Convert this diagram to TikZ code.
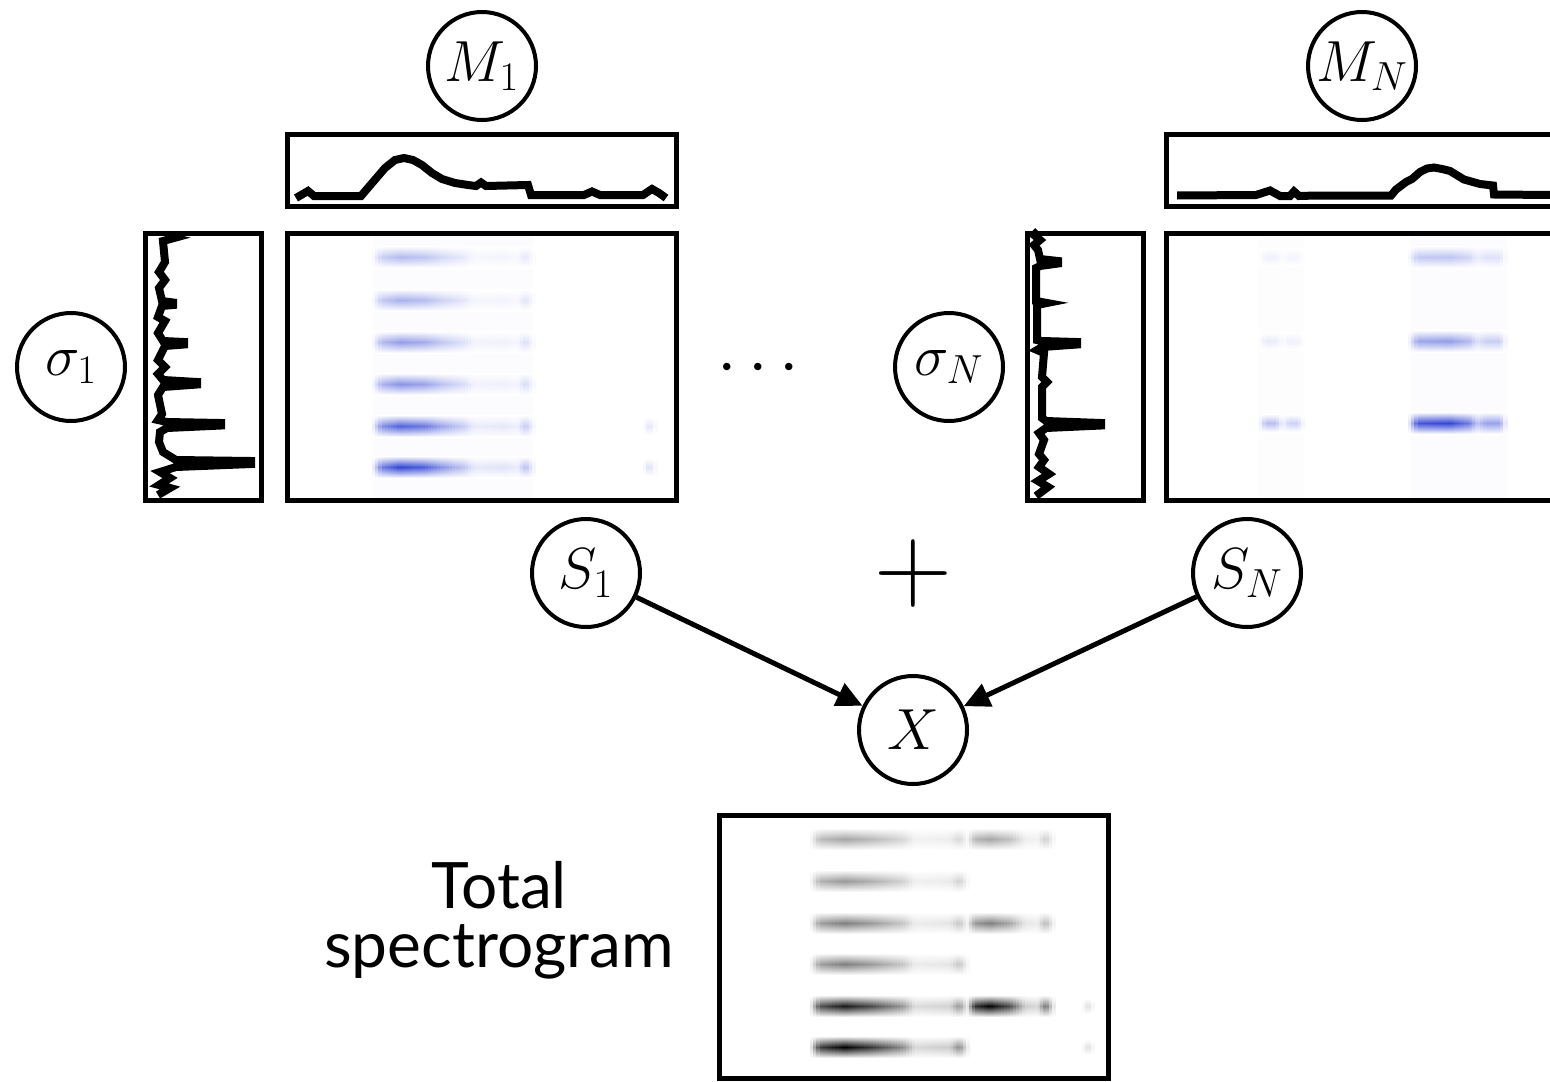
\RequirePackage{fix-cm}
\documentclass[tikz,border=0pt]{standalone}
\usepackage[no-math]{fontspec}
\newfontfamily\labelfont{Lato}
\usetikzlibrary{arrows.meta}
\definecolor{sb}{RGB}{40,60,210}
\newcommand\band[5]{%
  \foreach \xa/\xb/\fa/\fb in #5 {
    \pgfmathtruncatemacro\nn{max(1,round((\xb-\xa)/3))}
    \foreach \k in {1,...,\nn} {
      \pgfmathsetmacro\xl{\xa+(\k-1)*(\xb-\xa)/\nn}
      \pgfmathsetmacro\xr{\xa+\k*(\xb-\xa)/\nn+0.3}
      \pgfmathsetmacro\cc{(\fa+(\fb-\fa)*(\k-0.5)/\nn)*#4/100}
      \shade[top color=white, bottom color=white, middle color=#3!\cc!white] (\xl,#1-#2) rectangle (\xr,#1+#2);
    }}}
\def\mprof{372/382/0/70,382/400/70/100,400/425/100/85,425/440/85/60,440/465/60/30,465/475/30/12,475/505/12/15,505/518/15/10,518/526/10/35,526/535/35/0}
\def\mspot{643/650/0/25,650/657/25/0}
\def\nprofR{1408/1418/0/90,1418/1450/90/100,1450/1470/100/70,1470/1478/70/30,1478/1486/30/50,1486/1500/50/50,1500/1507/50/0}
\def\nprofL{1259/1266/0/50,1266/1276/50/50,1276/1283/50/10,1283/1289/10/35,1289/1298/35/35,1298/1304/35/0}
\def\tprofL{810/820/0/75,820/845/75/100,845/870/100/80,870/903/80/45,903/915/45/15,915/950/15/20,950/960/20/45,960/969/45/0}
\def\tprofR{967/975/0/80,975/990/80/100,990/1010/100/70,1010/1025/70/20,1025/1038/20/15,1038/1046/15/55,1046/1055/55/0}
\def\tspot{1082/1088/0/100,1088/1094/100/0}
\begin{document}
\begin{tikzpicture}[x=0.5pt,y=-0.5pt,
  var/.style={circle, draw, line width=2pt, minimum size=54pt, inner sep=0pt, font=\fontsize{29}{34}\selectfont},
  frame/.style={draw, line width=2.5pt},
  curve/.style={line width=4pt},
  link/.style={line width=2.5pt, -{Triangle[length=13pt,width=12pt]}},
  words/.style={font=\labelfont\fontsize{32}{38}\selectfont, anchor=base, inner sep=0pt}]
\useasboundingbox (0,0) rectangle (1550,1081);
\clip (0,0) rectangle (1550,1081);

% ---------- spectrogram M1 ----------
\fill[sb!1.5] (374,234) rectangle (533,499);
\band{257}{11}{sb}{35}{\mprof}
\band{300}{11}{sb}{40}{\mprof}
\band{342}{11}{sb}{50}{\mprof}
\band{384}{11}{sb}{55}{\mprof}
\band{426}{11}{sb}{80}{\mprof}
\band{467}{11}{sb}{95}{\mprof}
\band{426}{9}{sb}{60}{\mspot}
\band{467}{9}{sb}{70}{\mspot}

% ---------- spectrogram MN ----------
\fill[sb!1.5] (1410,234) rectangle (1506,499);
\fill[sb!1] (1258,234) rectangle (1304,499);
\band{257}{11}{sb}{30}{\nprofR}
\band{341}{11}{sb}{50}{\nprofR}
\band{423}{11}{sb}{95}{\nprofR}
\band{257}{9}{sb}{15}{\nprofL}
\band{341}{9}{sb}{20}{\nprofL}
\band{423}{9}{sb}{65}{\nprofL}

% ---------- total spectrogram ----------
\band{839}{11}{black}{35}{\tprofL}
\band{881}{11}{black}{40}{\tprofL}
\band{923}{11}{black}{50}{\tprofL}
\band{964}{11}{black}{50}{\tprofL}
\band{1006}{11}{black}{90}{\tprofL}
\band{1047}{11}{black}{100}{\tprofL}
\band{839}{11}{black}{35}{\tprofR}
\band{923}{11}{black}{50}{\tprofR}
\band{1006}{11}{black}{100}{\tprofR}
\band{1006}{8}{black}{14}{\tspot}
\band{1047}{8}{black}{14}{\tspot}

% ---------- frames ----------
\draw[frame] (287.5,134.5) rectangle (676.5,206);
\draw[frame] (287.5,233) rectangle (676.5,500.5);
\draw[frame] (145,233) rectangle (261,500.5);
\draw[frame] (1166,134.5) rectangle (1600,206);
\draw[frame] (1166,233) rectangle (1600,500.5);
\draw[frame] (1027,233) rectangle (1143,500.5);
\draw[frame] (719,815) rectangle (1108.5,1078);

% ---------- profile curves ----------
\draw[curve] (296,198) -- (308,191) -- (314,196) -- (361,196) -- (373,182) -- (385,168) -- (395,160) -- (404,158) -- (413,160) -- (422,165) -- (432,173) -- (442,179) -- (455,183) -- (468,185) -- (476,186) -- (481,182.5) -- (486,186) -- (528,185) -- (531,195) -- (584,195) -- (592,191.5) -- (600,195) -- (643,195) -- (652,189) -- (659,193) -- (666,198);
\draw[curve] (1177,195.5) -- (1256,195) -- (1270,190.5) -- (1280,196) -- (1290,196) -- (1294,191.5) -- (1299,196) -- (1317,195.5) -- (1391,195.5) -- (1396,189.5) -- (1406,182) -- (1412,179) -- (1420,172) -- (1427,168.5) -- (1434,167.5) -- (1442,169) -- (1450,171) -- (1464,179.5) -- (1480,184) -- (1493,185.5) -- (1494,194.5) -- (1552,195);
\draw[curve] (165,236) -- (174,238) -- (163,241) -- (165,262) -- (159,272) -- (165,280) -- (159,288) -- (162,301) -- (173,302.5) -- (173,305) -- (162,306) -- (158,317) -- (165,321) -- (158,333) -- (163,341) -- (184,342) -- (184,344.5) -- (165,346) -- (158,360) -- (165,367) -- (158,374) -- (163,380) -- (197,382) -- (197,384.5) -- (163,387) -- (158,395) -- (162,414) -- (158,420) -- (167,422) -- (221,423) -- (221,425.5) -- (167,428) -- (160,432) -- (159,442) -- (163,452) -- (176,460) -- (251,461) -- (251,464) -- (176,467) -- (160,472) -- (170,478) -- (159,485) -- (170,488) -- (158,495);
\draw[curve] (1038,231) -- (1034,235) -- (1040,240) -- (1034,245) -- (1038,250) -- (1040,259) -- (1058,261) -- (1058,263.5) -- (1040,266) -- (1036,268) -- (1036,301) -- (1047,303) -- (1037,305) -- (1037,340) -- (1042,341) -- (1077,342) -- (1077,344.5) -- (1042,347) -- (1037,350) -- (1044,353) -- (1042,377) -- (1047,382) -- (1042,387) -- (1042,418) -- (1046,421) -- (1101,423) -- (1101,425.5) -- (1046,428) -- (1039,433) -- (1044,440) -- (1039,454) -- (1044,460) -- (1039,467) -- (1049,474) -- (1038,481) -- (1048,487) -- (1036,496);

% ---------- variables ----------
\node[var] (M1) at (482,66) {$M_1$};
\node[var] (MN) at (1362,66) {$M_N$};
\node[var] (s1) at (71,367) {$\sigma_1$};
\node[var] (sN) at (949,367) {$\sigma_N$};
\node[var] (S1) at (586,573) {$S_1$};
\node[var] (SN) at (1247,573) {$S_N$};
\node[var] (X) at (913,730) {$X$};
\node[inner sep=0pt, anchor=base, font=\fontsize{35}{40}\selectfont] (dots) at (758,384) {$\cdots$};
\node[inner sep=0pt, font=\fontsize{54}{60}\selectfont] (plus) at (913,573) {$+$};

\draw[link] (S1) -- (X);
\draw[link] (SN) -- (X);

\node[words] (total) at (499,908) {Total};
\node[words] (spec) at (499,967) {spectrogram};
\end{tikzpicture}
\end{document}
